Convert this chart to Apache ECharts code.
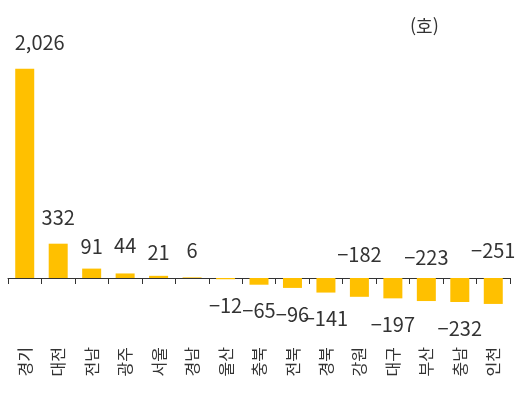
<!DOCTYPE html>
<html lang="ko">
<head>
	<meta charset="UTF-8">
	<title>지역별 변화</title>
	<script src="https://cdn.jsdelivr.net/npm/echarts@6/dist/echarts.min.js"></script>
	<style>html,body{margin:0;padding:0;background:#fff}</style>
</head>
<body>
	<div id="chart" style="width:524px; height:397px"></div>
	<script>
	var regions = ['경기', '대전', '전남', '광주', '서울', '경남', '울산', '충북', '전북', '경북', '강원', '대구', '부산', '충남', '인천'];
	var values = [2026, 332, 91, 44, 21, 6, -12, -65, -96, -141, -182, -197, -223, -232, -251];
	// 라벨 위치 (원본 그림 기준)
	var labelSide = ['top', 'top', 'top', 'top', 'top', 'top', 'bottom', 'bottom', 'bottom', 'bottom', 'top', 'bottom', 'top', 'bottom', 'top'];
	var labelGap = [16, 16, 12, 18, 13, 17, 16, 16, 16, 16, 14, 16, 11, 16, 18];

	var myChart = echarts.init(document.getElementById('chart'));

	function fmt(v) {
		var s = Math.abs(v).toString().replace(/\B(?=(\d{3})+(?!\d))/g, ',');
		return v < 0 ? '\u2212' + s : s;
	}

	var option = {
		animation: false,
		textStyle: {fontFamily: '"Noto Sans CJK KR", "Noto Sans", sans-serif'},
		grid: {left: 8, right: 14, top: 61, bottom: 88, outerBoundsMode: 'none', containLabel: false},
		graphic: [{
			type: 'text', left: 410, top: 17,
			style: {text: '(호)', fontSize: 18, fill: '#333', fontFamily: '"Noto Sans CJK KR", sans-serif'}
		}],
		xAxis: {
			type: 'category',
			data: regions,
			axisLine: {lineStyle: {color: '#333', width: 1}},
			axisTick: {show: true, length: 6, alignWithLabel: false, lineStyle: {color: '#333'}},
			axisLabel: {rotate: 90, margin: 38, fontSize: 16, color: '#333', interval: 0}
		},
		yAxis: {
			type: 'value', min: -300, max: 2100, show: false,
			splitLine: {show: false}
		},
		series: [{
			type: 'bar',
			barWidth: 19,
			itemStyle: {color: '#FFC000'},
			data: values.map(function (v, i) {
				return {
					value: v,
					label: {
						position: labelSide[i],
						distance: labelGap[i],
						offset: i == 0 ? [15, 0] : [0, 0]
					}
				};
			}),
			label: {
				show: true,
				fontSize: 20,
				color: '#333',
				formatter: function (p) { return fmt(p.value); }
			}
		}]
	};

	myChart.setOption(option);
	</script>
</body>
</html>
